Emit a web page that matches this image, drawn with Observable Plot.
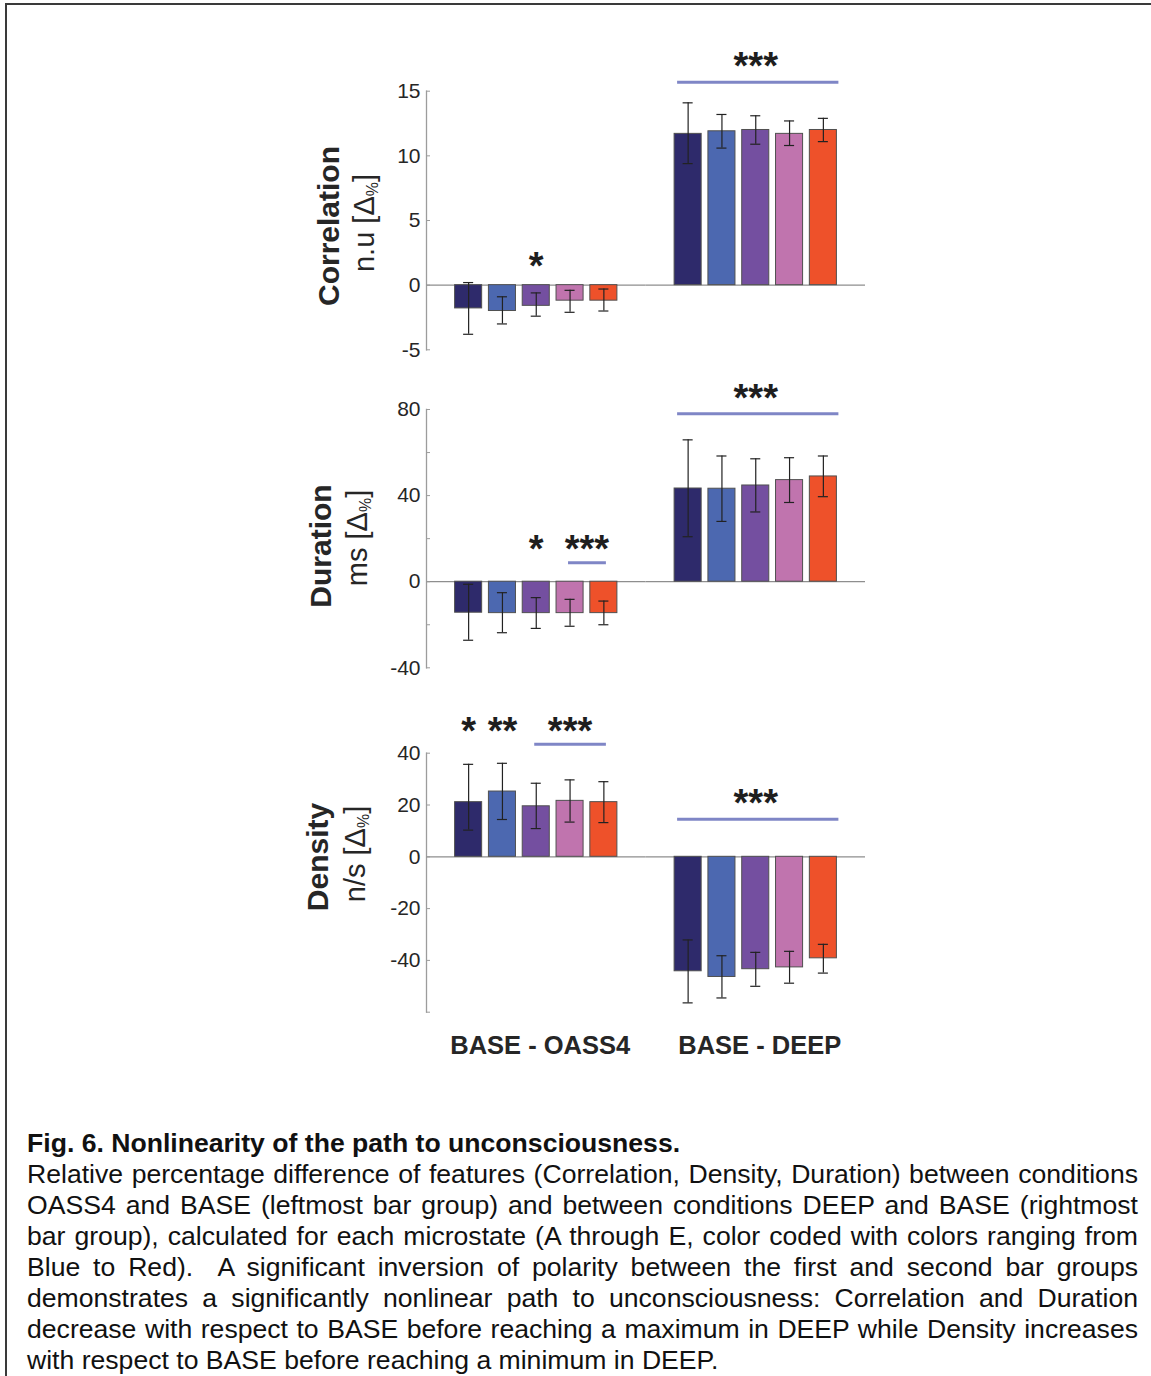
<!DOCTYPE html>
<html>
<head>
<meta charset="utf-8">
<script src="https://cdn.jsdelivr.net/npm/d3@7"></script>
<script src="https://cdn.jsdelivr.net/npm/@observablehq/plot@0.6"></script>
<style>
  html, body { margin: 0; padding: 0; background: #fff; }
  #page { position: relative; width: 1151px; height: 1376px; overflow: hidden;
          font-family: "Liberation Sans", Arial, Helvetica, sans-serif; color: #262626; }
  #frame { position: absolute; left: 5px; top: 3px; right: -10px; bottom: -10px;
           border-top: 2.5px solid #3a3a3a; border-left: 2.5px solid #3a3a3a; }
  .panel { position: absolute; left: 0; }
  .ylab { position: absolute; transform: translate(-50%, -50%) rotate(-90deg);
          white-space: nowrap; line-height: 1; color: #262626; z-index: 2; }
  .ylab.name { font-weight: bold; font-size: 30px; }
  .ylab.unit { font-size: 29px; }
  .ylab sub { font-size: 0.55em; vertical-align: -0.3em; line-height: 0; }
  #caption { position: absolute; left: 27px; top: 1128px; width: 1111px;
             font-size: 26.6px; line-height: 31px; color: #111; z-index: 2; }
  #caption .title { font-weight: bold; }
  #caption .ln { text-align: justify; text-align-last: justify; }
  #caption .ln.last { text-align-last: left; }
</style>
</head>
<body>
<div id="page">
  <div id="frame"></div>
  <div id="caption"></div>
</div>
<script>
// ---------------- data ----------------
const groups = ["BASE - OASS4", "BASE - DEEP"];
const microstates = ["A", "B", "C", "D", "E"];
const stateColors = ["#2e2a6b", "#4c68b0", "#744fa0", "#c074ae", "#ee512a"];

// Correlation  n.u [Δ%]
const corrOass4Mean = [-1.8, -2.0, -1.6, -1.2, -1.2];
const corrOass4Low  = [-3.8, -3.0, -2.4, -2.1, -2.0];
const corrOass4High = [0.2, -0.9, -0.6, -0.4, -0.3];
const corrDeepMean  = [11.7, 11.9, 12.0, 11.7, 12.0];
const corrDeepLow   = [9.4, 10.6, 10.9, 10.8, 11.1];
const corrDeepHigh  = [14.1, 13.2, 13.1, 12.7, 12.9];
const corrTicks = [-5, 0, 5, 10, 15];
const corrTickLabels = [-5, 0, 5, 10, 15];

// Duration  ms [Δ%]
const durOass4Mean = [-14.4, -14.6, -14.6, -14.6, -14.6];
const durOass4Low  = [-27.2, -23.7, -21.7, -20.7, -20.0];
const durOass4High = [-1.2, -5.1, -7.4, -8.2, -9.0];
const durDeepMean  = [43.3, 43.2, 44.7, 47.2, 48.9];
const durDeepLow   = [20.9, 28.0, 32.4, 36.8, 39.5];
const durDeepHigh  = [65.9, 58.4, 57.1, 57.6, 58.4];
const durTicks = [-40, -20, 0, 20, 40, 60, 80];
const durTickLabels = [-40, 0, 40, 80];

// Density  n/s [Δ%]
const densOass4Mean = [21.1, 25.2, 19.5, 21.6, 21.1];
const densOass4Low  = [10.3, 14.4, 10.9, 13.4, 13.2];
const densOass4High = [35.7, 36.1, 28.4, 29.7, 29.0];
const densDeepMean  = [-44.2, -46.4, -43.4, -42.7, -39.2];
const densDeepLow   = [-56.4, -54.5, -50.0, -48.8, -44.9];
const densDeepHigh  = [-32.1, -38.2, -36.9, -36.5, -33.8];
const densTicks = [-60, -40, -20, 0, 20, 40];
const densTickLabels = [-40, -20, 0, 20, 40];

// significance annotations (stars and bracket lines, in data units)
const corrSig = [
  {group: "BASE - OASS4", from: "C", to: "C", stars: "*",   starY: 1.9,  lineY: null},
  {group: "BASE - DEEP",  from: "A", to: "E", stars: "***", starY: 17.4, lineY: 15.7}
];
const durSig = [
  {group: "BASE - OASS4", from: "C", to: "C", stars: "*",   starY: 17.7, lineY: null},
  {group: "BASE - OASS4", from: "D", to: "E", stars: "***", starY: 17.7, lineY: 8.8},
  {group: "BASE - DEEP",  from: "A", to: "E", stars: "***", starY: 88.1, lineY: 78.0}
];
const densSig = [
  {group: "BASE - OASS4", from: "A", to: "A", stars: "*",   starY: 50.6, lineY: null},
  {group: "BASE - OASS4", from: "B", to: "B", stars: "**",  starY: 50.6, lineY: null},
  {group: "BASE - OASS4", from: "C", to: "E", stars: "***", starY: 50.6, lineY: 43.5},
  {group: "BASE - DEEP",  from: "A", to: "E", stars: "***", starY: 22.9, lineY: 14.5}
];

const captionTitle = "Fig. 6. Nonlinearity of the path to unconsciousness.";
const captionLines = [
  "Relative percentage difference of features (Correlation, Density, Duration) between conditions",
  "OASS4 and BASE (leftmost bar group) and between conditions DEEP and BASE (rightmost",
  "bar group), calculated for each microstate (A through E, color coded with colors ranging from",
  "Blue to Red).\u00a0 A significant inversion of polarity between the first and second bar groups",
  "demonstrates a significantly nonlinear path to unconsciousness: Correlation and Duration",
  "decrease with respect to BASE before reaching a maximum in DEEP while Density increases",
  "with respect to BASE before reaching a minimum in DEEP."
];

// ---------------- layout ----------------
const FIG_W = 1151;
const AXIS_X = 426;
const PLOT_W = 439;
const X_PAD_INNER = 0.2;
const X_PAD_OUTER = 0.846;
const STEP = (PLOT_W / groups.length) / (microstates.length - X_PAD_INNER + 2 * X_PAD_OUTER);
const SIG_COLOR = "#7f86c6";
const FONT = "'Liberation Sans', Arial, Helvetica, sans-serif";

function rowsFor(oM, oL, oH, dM, dL, dH) {
  const out = [];
  microstates.forEach((s, i) => out.push({group: groups[0], state: s, value: oM[i], lo: oL[i], hi: oH[i]}));
  microstates.forEach((s, i) => out.push({group: groups[1], state: s, value: dM[i], lo: dL[i], hi: dH[i]}));
  return out;
}

function panel({rows, sig, domain, ticks, labeled, height, marginTop, marginBottom, groupLabels}) {
  const labelSet = new Set(labeled);
  const idx = (s) => microstates.indexOf(s);
  const whole = (s) => s.from === microstates[0] && s.to === microstates[microstates.length - 1];
  const lines = sig.filter((s) => s.lineY != null);
  const marks = [
    Plot.frame({anchor: "left", facetAnchor: "left", stroke: "#9c9c9c", strokeWidth: 1.3}),
    Plot.ruleY([0], {stroke: "#8e8e8e", strokeWidth: 1.2}),
    Plot.barY(rows, {fx: "group", x: "state", y: "value", fill: "state", stroke: "#505050", strokeWidth: 1}),
    Plot.ruleX(rows, {fx: "group", x: "state", y1: "lo", y2: "hi", stroke: "#222", strokeWidth: 1.2}),
    Plot.tickY(rows, {fx: "group", x: "state", y: "lo", inset: 8.5, stroke: "#222", strokeWidth: 1.2}),
    Plot.tickY(rows, {fx: "group", x: "state", y: "hi", inset: 8.5, stroke: "#222", strokeWidth: 1.2}),
    Plot.ruleY(lines.filter(whole), {fx: "group", x1: "from", x2: "to", y: "lineY",
      insetLeft: 3, insetRight: -2, stroke: SIG_COLOR, strokeWidth: 3}),
    Plot.ruleY(lines.filter((s) => !whole(s)), {fx: "group", x1: "from", x2: "to", y: "lineY",
      insetLeft: 12, insetRight: 11, stroke: SIG_COLOR, strokeWidth: 3}),
    ...sig.map((s) => Plot.text([s], {
      fx: "group",
      x: whole(s) ? undefined : "from",
      y: "starY",
      text: "stars",
      dx: whole(s) ? 0 : (idx(s.to) - idx(s.from)) / 2 * STEP,
      dy: 6.5,
      fontSize: 38,
      fontWeight: "bold",
      fill: "#1e1e1e"
    })),
    Plot.axisY({ticks, tickFormat: (d) => labelSet.has(d) ? String(d) : "",
      tickSize: -4, tickPadding: 10, fontSize: 21, stroke: "#9c9c9c", fill: "#262626", label: null})
  ];
  if (groupLabels) {
    marks.push(Plot.axisFx({anchor: "bottom", tickSize: 0, tickPadding: 24, fontSize: 25.5, dx: 4,
      fontWeight: "bold", fill: "#262626", label: null}));
  }
  return Plot.plot({
    width: FIG_W,
    height,
    marginLeft: AXIS_X,
    marginRight: FIG_W - AXIS_X - PLOT_W,
    marginTop,
    marginBottom,
    style: {background: "transparent", overflow: "visible", fontFamily: FONT, fontSize: "21px", color: "#262626"},
    fx: {domain: groups, padding: 0, round: false, label: null, axis: null},
    x: {type: "band", domain: microstates, paddingInner: X_PAD_INNER, paddingOuter: X_PAD_OUTER, round: false, axis: null},
    y: {domain, nice: false, label: null},
    color: {domain: microstates, range: stateColors},
    marks
  });
}

const page = document.getElementById("page");
const panels = [
  {top: 0, cfg: {rows: rowsFor(corrOass4Mean, corrOass4Low, corrOass4High, corrDeepMean, corrDeepLow, corrDeepHigh),
    sig: corrSig, domain: [-5, 15], ticks: corrTicks, labeled: corrTickLabels,
    height: 380, marginTop: 90.7, marginBottom: 30.7, groupLabels: false}},
  {top: 380, cfg: {rows: rowsFor(durOass4Mean, durOass4Low, durOass4High, durDeepMean, durDeepLow, durDeepHigh),
    sig: durSig, domain: [-40, 80], ticks: durTicks, labeled: durTickLabels,
    height: 330, marginTop: 29, marginBottom: 42.7, groupLabels: false}},
  {top: 710, cfg: {rows: rowsFor(densOass4Mean, densOass4Low, densOass4High, densDeepMean, densDeepLow, densDeepHigh),
    sig: densSig, domain: [-60, 40], ticks: densTicks, labeled: densTickLabels,
    height: 390, marginTop: 42.7, marginBottom: 88.3, groupLabels: true}}
];
for (const p of panels) {
  const svg = panel(p.cfg);
  svg.classList.add("panel");
  svg.style.position = "absolute";
  svg.style.top = p.top + "px";
  svg.style.left = "0px";
  page.appendChild(svg);
}

// y-axis titles (two lines, rotated)
const yTitles = [
  {name: "Correlation", unit: "n.u [Δ<sub>%</sub>]", nx: 328.8, ny: 225.8, ux: 364.3, uy: 222.5},
  {name: "Duration",    unit: "ms [Δ<sub>%</sub>]",  nx: 320.6, ny: 545.8, ux: 356.5, uy: 537.5},
  {name: "Density",     unit: "n/s [Δ<sub>%</sub>]", nx: 318.3, ny: 856.7, ux: 354.5, uy: 854.2}
];
for (const t of yTitles) {
  const a = document.createElement("div");
  a.className = "ylab name";
  a.textContent = t.name;
  a.style.left = t.nx + "px"; a.style.top = t.ny + "px";
  page.appendChild(a);
  const b = document.createElement("div");
  b.className = "ylab unit";
  b.innerHTML = t.unit;
  b.style.left = t.ux + "px"; b.style.top = t.uy + "px";
  page.appendChild(b);
}

// caption
const cap = document.getElementById("caption");
const title = document.createElement("div");
title.className = "title";
title.textContent = captionTitle;
cap.appendChild(title);
captionLines.forEach((line, i) => {
  const d = document.createElement("div");
  d.className = "ln" + (i === captionLines.length - 1 ? " last" : "");
  d.textContent = line;
  cap.appendChild(d);
});
</script>
</body>
</html>
